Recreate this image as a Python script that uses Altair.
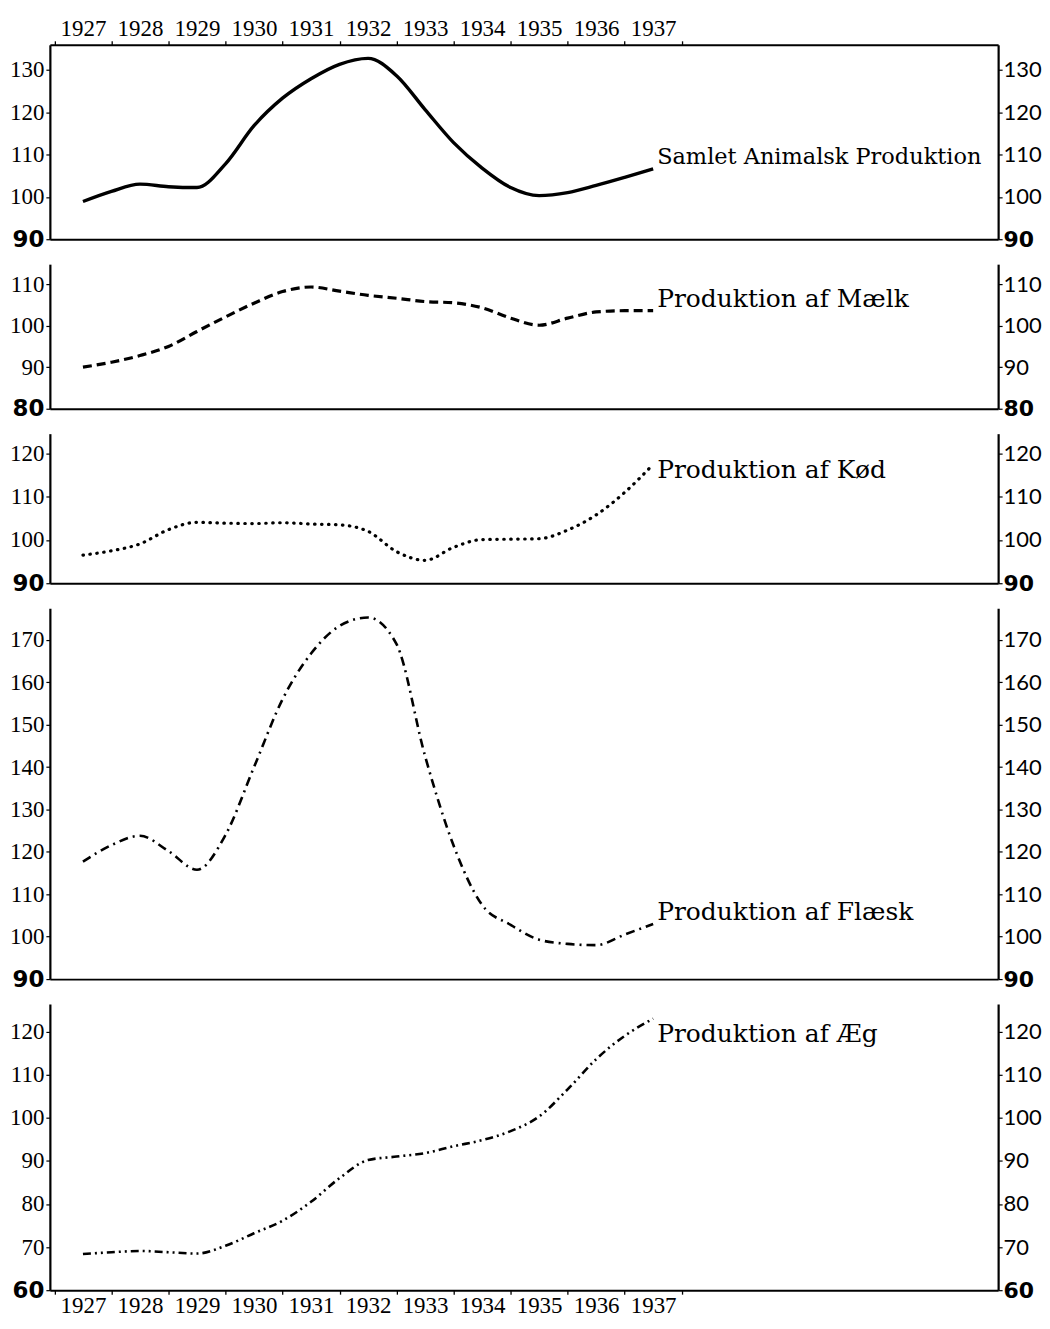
import altair as alt
import pandas as pd

# ---- data (index values, half-year readings) ----
years = [1927.0, 1927.5, 1928.0, 1928.5, 1929.0, 1929.5, 1930.0, 1930.5, 1931.0, 1931.5,
         1932.0, 1932.5, 1933.0, 1933.5, 1934.0, 1934.5, 1935.0, 1935.5, 1936.0, 1936.5, 1937.0]

samlet = [98.9, 101.3, 103.0, 102.4, 102.2, 107.8, 116.8, 123.3, 127.9, 131.3,
          132.7, 128.6, 120.6, 112.8, 106.8, 102.2, 100.3, 101.0, 102.7, 104.6, 106.6]
maelk = [90.0, 91.2, 92.8, 95.0, 98.6, 102.1, 105.4, 108.2, 109.3, 108.3,
         107.3, 106.6, 105.8, 105.5, 104.3, 101.8, 100.1, 101.8, 103.3, 103.6, 103.6]
koed = [96.5, 97.5, 99.1, 102.4, 104.1, 103.9, 103.8, 104.0, 103.7, 103.5,
        102.0, 97.3, 95.3, 98.3, 100.1, 100.2, 100.3, 102.3, 105.8, 111.0, 117.5]
flaesk = [117.7, 121.6, 123.8, 120.2, 115.8, 124.0, 140.0, 156.0, 166.8, 173.3,
          175.3, 169.0, 142.6, 121.5, 107.5, 102.8, 99.3, 98.3, 98.0, 100.5, 103.0]
aeg = [68.4, 68.8, 69.1, 68.8, 68.5, 70.3, 73.2, 76.1, 80.5, 86.0,
       90.2, 91.0, 91.8, 93.4, 94.8, 96.9, 100.3, 106.6, 113.6, 119.0, 123.0]

names = ["Samlet Animalsk Produktion", "Produktion af Mælk", "Produktion af Kød",
         "Produktion af Flæsk", "Produktion af Æg"]

ticks_samlet = [90, 100, 110, 120, 130]
ticks_maelk = [80, 90, 100, 110]
ticks_koed = [90, 100, 110, 120]
ticks_flaesk = [90, 100, 110, 120, 130, 140, 150, 160, 170]
ticks_aeg = [60, 70, 80, 90, 100, 110, 120]

year_bounds = [1926.5, 1927.5, 1928.5, 1929.5, 1930.5, 1931.5, 1932.5, 1933.5,
               1934.5, 1935.5, 1936.5, 1937.5]

# ---- layout ----
X_MIN, X_MAX = 1926.42, 1943.05
W = 951
PX_PER_YEAR = W / (X_MAX - X_MIN)

SERIF = "Liberation Serif"
LABEL_FONT = "DejaVu Serif"


def x_axis(kind):
    if kind == "labels_top" or kind == "labels_bottom":
        return alt.Axis(
            orient="top" if kind == "labels_top" else "bottom",
            values=year_bounds, title=None, grid=False,
            labelExpr="datum.value < 1937 ? '' + (datum.value + 0.5) : ''",
            labelOffset=PX_PER_YEAR / 2, labelOverlap=False, labelBound=False,
            labelFlush=False, tickSize=4, tickWidth=1.3, tickColor="black",
            domainColor="black", domainWidth=2, labelFont=SERIF, labelFontSize=23,
            labelColor="black", labelPadding=0)
    return alt.Axis(orient="bottom", title=None, grid=False, labels=False,
                    ticks=False, domainColor="black", domainWidth=1.8)


def panel(values, name, ymin, ymax, yticks, height, line_style, label_dy,
          label_size, xline, xtext):
    df = pd.DataFrame({"year": years, "value": values})
    lab = pd.DataFrame({"year": [years[-1]], "value": [values[-1]], "name": [name]})
    xs = alt.Scale(domain=[X_MIN, X_MAX], nice=False, zero=False)
    ys = alt.Scale(domain=[ymin, ymax], nice=False, zero=False)
    bold = f"datum.value == {ymin} ? 'bold' : 'normal'"
    left = alt.Axis(
        orient="left", values=yticks, title=None, grid=False,
        domainColor="black", domainWidth=2.2, tickColor="black", tickSize=4,
        tickWidth=1.2, labelColor="black", labelPadding=2, labelFontSize=23,
        labelFont=alt.expr(f"datum.value == {ymin} ? 'DejaVu Sans' : '{SERIF}'"),
        labelFontWeight=alt.expr(bold), labelBaseline="middle")
    right = alt.Axis(
        orient="right", values=yticks, title=None, grid=False,
        domainColor="black", domainWidth=2.2, tickColor="black", tickSize=4,
        tickWidth=1.2, labelColor="black", labelPadding=1, labelFontSize=22,
        labelFont=alt.expr(f"datum.value == {ymin} ? 'DejaVu Sans' : 'Lato'"),
        labelFontWeight=alt.expr(bold))
    line = alt.Chart(df).mark_line(interpolate="monotone", color="black",
                                   **line_style).encode(
        x=alt.X("year:Q", scale=xs, axis=x_axis(xline)),
        y=alt.Y("value:Q", scale=ys, axis=left),
    )
    text = alt.Chart(lab).mark_text(
        align="left", baseline="middle", dx=4, dy=label_dy, font=LABEL_FONT,
        fontSize=label_size, color="black").encode(
        x=alt.X("year:Q", scale=xs, axis=x_axis(xtext) if xtext else None),
        y=alt.Y("value:Q", scale=ys, axis=right),
        text="name:N",
    )
    return alt.layer(line, text).resolve_axis(
        x="independent", y="independent").properties(width=W, height=height)


p1 = panel(samlet, names[0], 90, 135.9, ticks_samlet, 195,
           {"strokeWidth": 3.4}, -12, 22.5, "labels_top", "plain")
p2 = panel(maelk, names[1], 80, 114.8, ticks_maelk, 145,
           {"strokeWidth": 3.2, "strokeDash": [9, 5]}, -12, 25, "plain", None)
p3 = panel(koed, names[2], 90, 124.6, ticks_koed, 150,
           {"strokeWidth": 3.2, "strokeDash": [0.5, 6.5], "strokeCap": "round"},
           6, 25, "plain", None)
p4 = panel(flaesk, names[3], 90, 177.5, ticks_flaesk, 372,
           {"strokeWidth": 2.6, "strokeDash": [9, 5, 2, 5]}, -12, 25, "plain", None)
p5 = panel(aeg, names[4], 60, 126.4, ticks_aeg, 287,
           {"strokeWidth": 2.6, "strokeDash": [8, 4, 2, 4, 2, 4]}, 15, 25,
           "labels_bottom", None)

chart = alt.vconcat(p1, p2, p3, p4, p5, spacing=25, bounds="flush").configure_view(
    stroke=None).properties(
    padding={"left": 1, "top": 8, "right": 0, "bottom": 0})

chart.save("out.html", embed_options={"renderer": "svg", "actions": False})
